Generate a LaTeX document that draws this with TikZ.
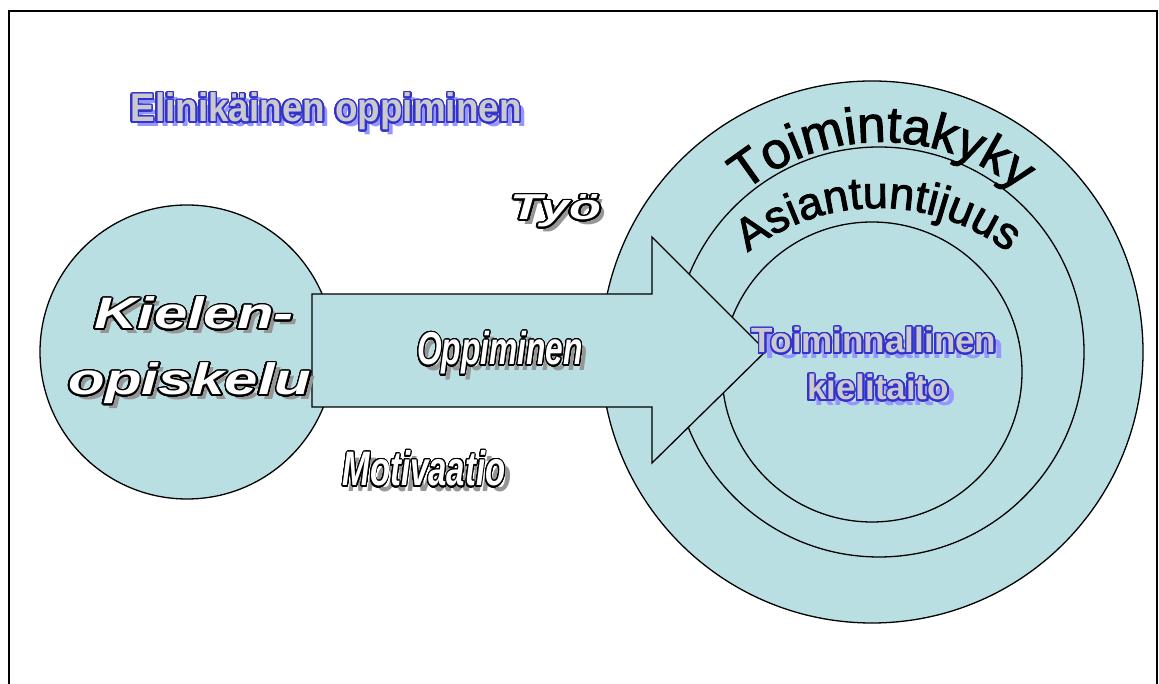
\documentclass[tikz,border=0pt]{standalone}
\usepackage{fontspec}
\setmainfont{Liberation Sans}
\newfontfamily\archfont[FakeBold=2]{Liberation Sans}
\usepackage[copies]{contour}
\usetikzlibrary{calc,decorations.text}

\definecolor{discfill}{RGB}{186,223,227}
\definecolor{artblue}{RGB}{51,51,204}
\definecolor{artgray}{RGB}{202,202,206}
\definecolor{artlav}{RGB}{150,150,255}
\definecolor{artshade}{RGB}{150,150,150}

\contournumber{32}

\tikzset{
  ring/.style={circle, draw=black, line width=1.3pt, fill=discfill, inner sep=0pt, minimum size=#1},
  wa/.style={inner sep=0pt, anchor=base},
  arrowbody/.style={draw=black, line width=1.3pt, fill=discfill, line join=miter},
  frameline/.style={draw=black, line width=2pt},
  arctext/.style={decorate, decoration={text along path, text align=center, text={#1}}}
}

\begin{document}
\begin{tikzpicture}[x=1pt,y=1pt]
\useasboundingbox (0,0) rectangle (1159,684);

% outer frame, open at the bottom
\draw[frameline] (9,-4) -- (9,673) -- (1157,673) -- (1157,-4);

% concentric competence rings
\node[ring=542pt] (kyky)  at (872,332) {};
\node[ring=410pt] (asian) at (879,332) {};
\node[ring=300pt] (taito) at (872,312) {};

% language study disc
\node[ring=294pt] (kieli) at (187,332) {};

% learning arrow
\coordinate (a1) at (312,390);
\coordinate (a2) at (652,390);
\coordinate (a3) at (652,447);
\coordinate (tip) at (766,333);
\coordinate (a4) at (652,221);
\coordinate (a5) at (652,277);
\coordinate (a6) at (312,277);
\draw[arrowbody] (a1) -- (a2) -- (a3) -- (tip) -- (a4) -- (a5) -- (a6) -- cycle;

% curved ring labels
\coordinate (tkc) at (882,327);
\path[arctext={|\archfont\fontsize{51}{51}\selectfont|Toimintakyky}]
  ($(tkc)+(140:215)$) arc[start angle=140, end angle=40, radius=215];
\coordinate (asc) at (878,264);
\path[arctext={|\archfont\fontsize{45}{45}\selectfont|Asiantuntijuus}]
  ($(asc)+(128:212)$) arc[start angle=128, end angle=52, radius=212];

% title
\contourlength{1.6pt}
\node[wa, text=artlav, font=\bfseries\fontsize{38}{38}\selectfont] (elin-s) at (331,557) {\scalebox{0.97}[1.05]{Elinikäinen oppiminen}};
\node[wa, text=artgray, font=\bfseries\fontsize{38}{38}\selectfont] (elin) at (326,562) {\scalebox{0.97}[1.05]{\contour{artblue}{Elinikäinen oppiminen}}};

% target skill
\node[wa, text=artlav, font=\bfseries\fontsize{35}{35}\selectfont] (toim-s) at (882,325) {Toiminnallinen};
\node[wa, text=artgray, font=\bfseries\fontsize{35}{35}\selectfont] (toim) at (874,331) {\contour{artblue}{Toiminnallinen}};
\node[wa, text=artlav, font=\bfseries\fontsize{35}{35}\selectfont] (kiel-s) at (885,278) {kielitaito};
\node[wa, text=artgray, font=\bfseries\fontsize{35}{35}\selectfont] (kiel) at (878,284) {\contour{artblue}{kielitaito}};

% white italic labels with grey shadows
\contourlength{1.3pt}
\node[wa, text=artshade, font=\bfseries\itshape\fontsize{44}{44}\selectfont] (kl1-s) at (199,350) {\scalebox{1.36}[1]{Kielen-}};
\node[wa, text=white, font=\bfseries\itshape\fontsize{44}{44}\selectfont] (kl1) at (194,355) {\scalebox{1.36}[1]{\contour{black}{Kielen-}}};
\node[wa, text=artshade, font=\bfseries\itshape\fontsize{44}{44}\selectfont] (kl2-s) at (195,284) {\scalebox{1.36}[1]{opiskelu}};
\node[wa, text=white, font=\bfseries\itshape\fontsize{44}{44}\selectfont] (kl2) at (190,289) {\scalebox{1.36}[1]{\contour{black}{opiskelu}}};

\node[wa, text=artshade, font=\bfseries\itshape\fontsize{36}{36}\selectfont] (tyo-s) at (561,459) {\scalebox{1.45}[1]{Työ}};
\node[wa, text=white, font=\bfseries\itshape\fontsize{36}{36}\selectfont] (tyo) at (556,464) {\scalebox{1.45}[1]{\contour{black}{Työ}}};

\node[wa, text=artshade, font=\bfseries\itshape\fontsize{46}{46}\selectfont] (opp-s) at (505,313) {\scalebox{0.69}[1]{Oppiminen}};
\node[wa, text=white, font=\bfseries\itshape\fontsize{46}{46}\selectfont] (opp) at (500,319) {\scalebox{0.69}[1]{\contour{black}{Oppiminen}}};

\node[wa, text=artshade, font=\bfseries\itshape\fontsize{47}{47}\selectfont] (mot-s) at (430,192) {\scalebox{0.7}[1.03]{Motivaatio}};
\node[wa, text=white, font=\bfseries\itshape\fontsize{47}{47}\selectfont] (mot) at (424,198) {\scalebox{0.7}[1.03]{\contour{black}{Motivaatio}}};
\end{tikzpicture}
\end{document}
